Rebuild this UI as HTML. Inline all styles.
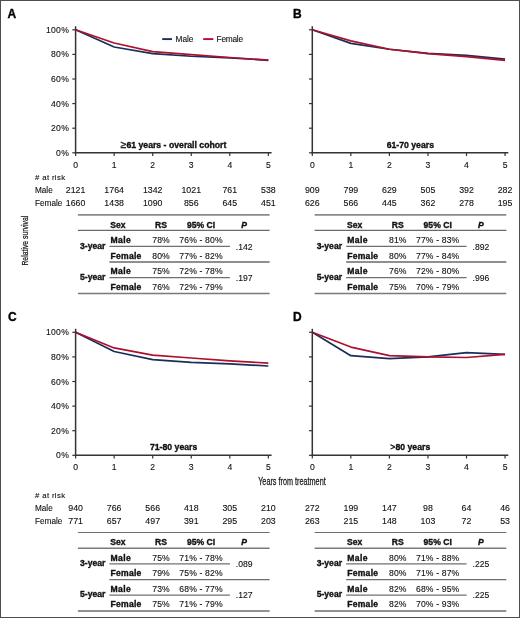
<!DOCTYPE html>
<html><head><meta charset="utf-8"><style>
html,body{margin:0;padding:0;background:#fff;}
body{width:520px;height:618px;overflow:hidden;}
.frame{position:absolute;left:0;top:0;width:520px;height:618px;box-sizing:border-box;border:1px solid #4d4d4d;}
svg{position:absolute;left:0;top:0;font-family:"Liberation Sans", sans-serif;will-change:transform;}
</style></head><body>
<svg width="520" height="618" viewBox="0 0 520 618">
<text x="7.50" y="18.20" font-size="12" text-anchor="start" font-weight="bold" font-style="normal" fill="#000" stroke="#000" stroke-width="0.35" >A</text>
<polyline points="75.60,29.80 114.15,47.02 152.70,53.54 191.25,56.25 229.80,57.84 268.35,60.30" fill="none" stroke="#1b2d5a" stroke-width="1.7" stroke-linejoin="round"/>
<polyline points="75.60,29.80 114.15,42.96 152.70,51.57 191.25,54.65 229.80,57.48 268.35,60.06" fill="none" stroke="#ad112d" stroke-width="1.7" stroke-linejoin="round"/>
<line x1="75.60" y1="26.30" x2="75.60" y2="153.55" stroke="#333" stroke-width="1.5"/>
<line x1="74.85" y1="152.80" x2="271.60" y2="152.80" stroke="#333" stroke-width="1.5"/>
<line x1="72.30" y1="29.80" x2="75.60" y2="29.80" stroke="#333" stroke-width="1.2"/>
<text x="69.10" y="32.80" font-size="8.6" text-anchor="end" font-weight="normal" font-style="normal" fill="#111" stroke="#111" stroke-width="0.12" letter-spacing="0.3">100%</text>
<line x1="72.30" y1="54.40" x2="75.60" y2="54.40" stroke="#333" stroke-width="1.2"/>
<text x="69.10" y="57.40" font-size="8.6" text-anchor="end" font-weight="normal" font-style="normal" fill="#111" stroke="#111" stroke-width="0.12" letter-spacing="0.3">80%</text>
<line x1="72.30" y1="79.00" x2="75.60" y2="79.00" stroke="#333" stroke-width="1.2"/>
<text x="69.10" y="82.00" font-size="8.6" text-anchor="end" font-weight="normal" font-style="normal" fill="#111" stroke="#111" stroke-width="0.12" letter-spacing="0.3">60%</text>
<line x1="72.30" y1="103.60" x2="75.60" y2="103.60" stroke="#333" stroke-width="1.2"/>
<text x="69.10" y="106.60" font-size="8.6" text-anchor="end" font-weight="normal" font-style="normal" fill="#111" stroke="#111" stroke-width="0.12" letter-spacing="0.3">40%</text>
<line x1="72.30" y1="128.20" x2="75.60" y2="128.20" stroke="#333" stroke-width="1.2"/>
<text x="69.10" y="131.20" font-size="8.6" text-anchor="end" font-weight="normal" font-style="normal" fill="#111" stroke="#111" stroke-width="0.12" letter-spacing="0.3">20%</text>
<line x1="72.30" y1="152.80" x2="75.60" y2="152.80" stroke="#333" stroke-width="1.2"/>
<text x="69.10" y="155.80" font-size="8.6" text-anchor="end" font-weight="normal" font-style="normal" fill="#111" stroke="#111" stroke-width="0.12" letter-spacing="0.3">0%</text>
<line x1="75.60" y1="152.80" x2="75.60" y2="156.00" stroke="#333" stroke-width="1.2"/>
<text x="75.60" y="167.70" font-size="8.6" text-anchor="middle" font-weight="normal" font-style="normal" fill="#111" stroke="#111" stroke-width="0.12" >0</text>
<line x1="114.15" y1="152.80" x2="114.15" y2="156.00" stroke="#333" stroke-width="1.2"/>
<text x="114.15" y="167.70" font-size="8.6" text-anchor="middle" font-weight="normal" font-style="normal" fill="#111" stroke="#111" stroke-width="0.12" >1</text>
<line x1="152.70" y1="152.80" x2="152.70" y2="156.00" stroke="#333" stroke-width="1.2"/>
<text x="152.70" y="167.70" font-size="8.6" text-anchor="middle" font-weight="normal" font-style="normal" fill="#111" stroke="#111" stroke-width="0.12" >2</text>
<line x1="191.25" y1="152.80" x2="191.25" y2="156.00" stroke="#333" stroke-width="1.2"/>
<text x="191.25" y="167.70" font-size="8.6" text-anchor="middle" font-weight="normal" font-style="normal" fill="#111" stroke="#111" stroke-width="0.12" >3</text>
<line x1="229.80" y1="152.80" x2="229.80" y2="156.00" stroke="#333" stroke-width="1.2"/>
<text x="229.80" y="167.70" font-size="8.6" text-anchor="middle" font-weight="normal" font-style="normal" fill="#111" stroke="#111" stroke-width="0.12" >4</text>
<line x1="268.35" y1="152.80" x2="268.35" y2="156.00" stroke="#333" stroke-width="1.2"/>
<text x="268.35" y="167.70" font-size="8.6" text-anchor="middle" font-weight="normal" font-style="normal" fill="#111" stroke="#111" stroke-width="0.12" >5</text>
<text x="173.60" y="147.70" font-size="8.7" text-anchor="middle" font-weight="bold" font-style="normal" fill="#111" stroke="#111" stroke-width="0.35" ><tspan font-weight="normal" font-size="10.2">≥</tspan>61 years - overall cohort</text>
<text x="35.00" y="180.10" font-size="7.8" text-anchor="start" font-weight="normal" font-style="normal" fill="#111" stroke="#111" stroke-width="0.12" letter-spacing="0.35"># at risk</text>
<text x="35.00" y="193.30" font-size="8.2" text-anchor="start" font-weight="normal" font-style="normal" fill="#111" stroke="#111" stroke-width="0.12" >Male</text>
<text x="35.00" y="206.30" font-size="8.2" text-anchor="start" font-weight="normal" font-style="normal" fill="#111" stroke="#111" stroke-width="0.12" >Female</text>
<text x="75.60" y="193.30" font-size="8.8" text-anchor="middle" font-weight="normal" font-style="normal" fill="#111" stroke="#111" stroke-width="0.12" >2121</text>
<text x="75.60" y="206.30" font-size="8.8" text-anchor="middle" font-weight="normal" font-style="normal" fill="#111" stroke="#111" stroke-width="0.12" >1660</text>
<text x="114.15" y="193.30" font-size="8.8" text-anchor="middle" font-weight="normal" font-style="normal" fill="#111" stroke="#111" stroke-width="0.12" >1764</text>
<text x="114.15" y="206.30" font-size="8.8" text-anchor="middle" font-weight="normal" font-style="normal" fill="#111" stroke="#111" stroke-width="0.12" >1438</text>
<text x="152.70" y="193.30" font-size="8.8" text-anchor="middle" font-weight="normal" font-style="normal" fill="#111" stroke="#111" stroke-width="0.12" >1342</text>
<text x="152.70" y="206.30" font-size="8.8" text-anchor="middle" font-weight="normal" font-style="normal" fill="#111" stroke="#111" stroke-width="0.12" >1090</text>
<text x="191.25" y="193.30" font-size="8.8" text-anchor="middle" font-weight="normal" font-style="normal" fill="#111" stroke="#111" stroke-width="0.12" >1021</text>
<text x="191.25" y="206.30" font-size="8.8" text-anchor="middle" font-weight="normal" font-style="normal" fill="#111" stroke="#111" stroke-width="0.12" >856</text>
<text x="229.80" y="193.30" font-size="8.8" text-anchor="middle" font-weight="normal" font-style="normal" fill="#111" stroke="#111" stroke-width="0.12" >761</text>
<text x="229.80" y="206.30" font-size="8.8" text-anchor="middle" font-weight="normal" font-style="normal" fill="#111" stroke="#111" stroke-width="0.12" >645</text>
<text x="268.35" y="193.30" font-size="8.8" text-anchor="middle" font-weight="normal" font-style="normal" fill="#111" stroke="#111" stroke-width="0.12" >538</text>
<text x="268.35" y="206.30" font-size="8.8" text-anchor="middle" font-weight="normal" font-style="normal" fill="#111" stroke="#111" stroke-width="0.12" >451</text>
<line x1="77.90" y1="214.90" x2="269.60" y2="214.90" stroke="#8a8a8a" stroke-width="1.7"/>
<line x1="77.90" y1="230.30" x2="269.60" y2="230.30" stroke="#6a6a6a" stroke-width="1.3"/>
<line x1="109.40" y1="262.00" x2="269.60" y2="262.00" stroke="#8f8f8f" stroke-width="1.9"/>
<line x1="77.90" y1="293.50" x2="269.60" y2="293.50" stroke="#7a7a7a" stroke-width="1.6"/>
<line x1="109.40" y1="246.40" x2="229.90" y2="246.40" stroke="#707070" stroke-width="1.1"/>
<line x1="109.40" y1="277.60" x2="229.90" y2="277.60" stroke="#707070" stroke-width="1.1"/>
<text x="110.30" y="227.80" font-size="8.6" text-anchor="start" font-weight="bold" font-style="normal" fill="#111" stroke="#111" stroke-width="0.35" >Sex</text>
<text x="161.10" y="227.80" font-size="8.6" text-anchor="middle" font-weight="bold" font-style="normal" fill="#111" stroke="#111" stroke-width="0.35" >RS</text>
<text x="201.00" y="227.80" font-size="8.6" text-anchor="middle" font-weight="bold" font-style="normal" fill="#111" stroke="#111" stroke-width="0.35" >95% CI</text>
<text x="244.20" y="227.80" font-size="8.6" text-anchor="middle" font-weight="bold" font-style="italic" fill="#111" stroke="#111" stroke-width="0.35" >P</text>
<text x="80.00" y="248.80" font-size="8.6" text-anchor="start" font-weight="bold" font-style="normal" fill="#111" stroke="#111" stroke-width="0.35" >3-year</text>
<text x="110.50" y="243.00" font-size="8.6" text-anchor="start" font-weight="bold" font-style="normal" fill="#111" stroke="#111" stroke-width="0.35" letter-spacing="0.4">Male</text>
<text x="110.50" y="258.50" font-size="8.6" text-anchor="start" font-weight="bold" font-style="normal" fill="#111" stroke="#111" stroke-width="0.35" letter-spacing="0.25">Female</text>
<text x="161.10" y="243.00" font-size="8.6" text-anchor="middle" font-weight="normal" font-style="normal" fill="#111" stroke="#111" stroke-width="0.12" letter-spacing="0.15">78%</text>
<text x="201.00" y="243.00" font-size="8.6" text-anchor="middle" font-weight="normal" font-style="normal" fill="#111" stroke="#111" stroke-width="0.12" letter-spacing="0.15">76% - 80%</text>
<text x="161.10" y="258.50" font-size="8.6" text-anchor="middle" font-weight="normal" font-style="normal" fill="#111" stroke="#111" stroke-width="0.12" letter-spacing="0.15">80%</text>
<text x="201.00" y="258.50" font-size="8.6" text-anchor="middle" font-weight="normal" font-style="normal" fill="#111" stroke="#111" stroke-width="0.12" letter-spacing="0.15">77% - 82%</text>
<text x="235.80" y="249.70" font-size="8.6" text-anchor="start" font-weight="normal" font-style="normal" fill="#111" stroke="#111" stroke-width="0.12" >.142</text>
<text x="80.00" y="279.90" font-size="8.6" text-anchor="start" font-weight="bold" font-style="normal" fill="#111" stroke="#111" stroke-width="0.35" >5-year</text>
<text x="110.50" y="274.10" font-size="8.6" text-anchor="start" font-weight="bold" font-style="normal" fill="#111" stroke="#111" stroke-width="0.35" letter-spacing="0.4">Male</text>
<text x="110.50" y="289.60" font-size="8.6" text-anchor="start" font-weight="bold" font-style="normal" fill="#111" stroke="#111" stroke-width="0.35" letter-spacing="0.25">Female</text>
<text x="161.10" y="274.10" font-size="8.6" text-anchor="middle" font-weight="normal" font-style="normal" fill="#111" stroke="#111" stroke-width="0.12" letter-spacing="0.15">75%</text>
<text x="201.00" y="274.10" font-size="8.6" text-anchor="middle" font-weight="normal" font-style="normal" fill="#111" stroke="#111" stroke-width="0.12" letter-spacing="0.15">72% - 78%</text>
<text x="161.10" y="289.60" font-size="8.6" text-anchor="middle" font-weight="normal" font-style="normal" fill="#111" stroke="#111" stroke-width="0.12" letter-spacing="0.15">76%</text>
<text x="201.00" y="289.60" font-size="8.6" text-anchor="middle" font-weight="normal" font-style="normal" fill="#111" stroke="#111" stroke-width="0.12" letter-spacing="0.15">72% - 79%</text>
<text x="235.80" y="280.80" font-size="8.6" text-anchor="start" font-weight="normal" font-style="normal" fill="#111" stroke="#111" stroke-width="0.12" >.197</text>
<text x="293.00" y="18.20" font-size="12" text-anchor="start" font-weight="bold" font-style="normal" fill="#000" stroke="#000" stroke-width="0.35" >B</text>
<polyline points="312.30,29.80 350.85,43.33 389.40,49.23 427.95,53.42 466.50,55.38 505.05,59.07" fill="none" stroke="#1b2d5a" stroke-width="1.7" stroke-linejoin="round"/>
<polyline points="312.30,29.80 350.85,40.87 389.40,49.23 427.95,53.66 466.50,56.61 505.05,60.30" fill="none" stroke="#ad112d" stroke-width="1.7" stroke-linejoin="round"/>
<line x1="312.30" y1="26.30" x2="312.30" y2="153.55" stroke="#333" stroke-width="1.5"/>
<line x1="311.55" y1="152.80" x2="508.30" y2="152.80" stroke="#333" stroke-width="1.5"/>
<line x1="309.00" y1="29.80" x2="312.30" y2="29.80" stroke="#333" stroke-width="1.2"/>
<line x1="309.00" y1="54.40" x2="312.30" y2="54.40" stroke="#333" stroke-width="1.2"/>
<line x1="309.00" y1="79.00" x2="312.30" y2="79.00" stroke="#333" stroke-width="1.2"/>
<line x1="309.00" y1="103.60" x2="312.30" y2="103.60" stroke="#333" stroke-width="1.2"/>
<line x1="309.00" y1="128.20" x2="312.30" y2="128.20" stroke="#333" stroke-width="1.2"/>
<line x1="309.00" y1="152.80" x2="312.30" y2="152.80" stroke="#333" stroke-width="1.2"/>
<line x1="312.30" y1="152.80" x2="312.30" y2="156.00" stroke="#333" stroke-width="1.2"/>
<text x="312.30" y="167.70" font-size="8.6" text-anchor="middle" font-weight="normal" font-style="normal" fill="#111" stroke="#111" stroke-width="0.12" >0</text>
<line x1="350.85" y1="152.80" x2="350.85" y2="156.00" stroke="#333" stroke-width="1.2"/>
<text x="350.85" y="167.70" font-size="8.6" text-anchor="middle" font-weight="normal" font-style="normal" fill="#111" stroke="#111" stroke-width="0.12" >1</text>
<line x1="389.40" y1="152.80" x2="389.40" y2="156.00" stroke="#333" stroke-width="1.2"/>
<text x="389.40" y="167.70" font-size="8.6" text-anchor="middle" font-weight="normal" font-style="normal" fill="#111" stroke="#111" stroke-width="0.12" >2</text>
<line x1="427.95" y1="152.80" x2="427.95" y2="156.00" stroke="#333" stroke-width="1.2"/>
<text x="427.95" y="167.70" font-size="8.6" text-anchor="middle" font-weight="normal" font-style="normal" fill="#111" stroke="#111" stroke-width="0.12" >3</text>
<line x1="466.50" y1="152.80" x2="466.50" y2="156.00" stroke="#333" stroke-width="1.2"/>
<text x="466.50" y="167.70" font-size="8.6" text-anchor="middle" font-weight="normal" font-style="normal" fill="#111" stroke="#111" stroke-width="0.12" >4</text>
<line x1="505.05" y1="152.80" x2="505.05" y2="156.00" stroke="#333" stroke-width="1.2"/>
<text x="505.05" y="167.70" font-size="8.6" text-anchor="middle" font-weight="normal" font-style="normal" fill="#111" stroke="#111" stroke-width="0.12" >5</text>
<text x="410.30" y="147.70" font-size="8.7" text-anchor="middle" font-weight="bold" font-style="normal" fill="#111" stroke="#111" stroke-width="0.35" >61-70 years</text>
<text x="312.30" y="193.30" font-size="8.8" text-anchor="middle" font-weight="normal" font-style="normal" fill="#111" stroke="#111" stroke-width="0.12" >909</text>
<text x="312.30" y="206.30" font-size="8.8" text-anchor="middle" font-weight="normal" font-style="normal" fill="#111" stroke="#111" stroke-width="0.12" >626</text>
<text x="350.85" y="193.30" font-size="8.8" text-anchor="middle" font-weight="normal" font-style="normal" fill="#111" stroke="#111" stroke-width="0.12" >799</text>
<text x="350.85" y="206.30" font-size="8.8" text-anchor="middle" font-weight="normal" font-style="normal" fill="#111" stroke="#111" stroke-width="0.12" >566</text>
<text x="389.40" y="193.30" font-size="8.8" text-anchor="middle" font-weight="normal" font-style="normal" fill="#111" stroke="#111" stroke-width="0.12" >629</text>
<text x="389.40" y="206.30" font-size="8.8" text-anchor="middle" font-weight="normal" font-style="normal" fill="#111" stroke="#111" stroke-width="0.12" >445</text>
<text x="427.95" y="193.30" font-size="8.8" text-anchor="middle" font-weight="normal" font-style="normal" fill="#111" stroke="#111" stroke-width="0.12" >505</text>
<text x="427.95" y="206.30" font-size="8.8" text-anchor="middle" font-weight="normal" font-style="normal" fill="#111" stroke="#111" stroke-width="0.12" >362</text>
<text x="466.50" y="193.30" font-size="8.8" text-anchor="middle" font-weight="normal" font-style="normal" fill="#111" stroke="#111" stroke-width="0.12" >392</text>
<text x="466.50" y="206.30" font-size="8.8" text-anchor="middle" font-weight="normal" font-style="normal" fill="#111" stroke="#111" stroke-width="0.12" >278</text>
<text x="505.05" y="193.30" font-size="8.8" text-anchor="middle" font-weight="normal" font-style="normal" fill="#111" stroke="#111" stroke-width="0.12" >282</text>
<text x="505.05" y="206.30" font-size="8.8" text-anchor="middle" font-weight="normal" font-style="normal" fill="#111" stroke="#111" stroke-width="0.12" >195</text>
<line x1="314.60" y1="214.90" x2="506.30" y2="214.90" stroke="#8a8a8a" stroke-width="1.7"/>
<line x1="314.60" y1="230.30" x2="506.30" y2="230.30" stroke="#6a6a6a" stroke-width="1.3"/>
<line x1="346.10" y1="262.00" x2="506.30" y2="262.00" stroke="#8f8f8f" stroke-width="1.9"/>
<line x1="314.60" y1="293.50" x2="506.30" y2="293.50" stroke="#7a7a7a" stroke-width="1.6"/>
<line x1="346.10" y1="246.40" x2="466.60" y2="246.40" stroke="#707070" stroke-width="1.1"/>
<line x1="346.10" y1="277.60" x2="466.60" y2="277.60" stroke="#707070" stroke-width="1.1"/>
<text x="347.00" y="227.80" font-size="8.6" text-anchor="start" font-weight="bold" font-style="normal" fill="#111" stroke="#111" stroke-width="0.35" >Sex</text>
<text x="397.80" y="227.80" font-size="8.6" text-anchor="middle" font-weight="bold" font-style="normal" fill="#111" stroke="#111" stroke-width="0.35" >RS</text>
<text x="437.70" y="227.80" font-size="8.6" text-anchor="middle" font-weight="bold" font-style="normal" fill="#111" stroke="#111" stroke-width="0.35" >95% CI</text>
<text x="480.90" y="227.80" font-size="8.6" text-anchor="middle" font-weight="bold" font-style="italic" fill="#111" stroke="#111" stroke-width="0.35" >P</text>
<text x="316.70" y="248.80" font-size="8.6" text-anchor="start" font-weight="bold" font-style="normal" fill="#111" stroke="#111" stroke-width="0.35" >3-year</text>
<text x="347.20" y="243.00" font-size="8.6" text-anchor="start" font-weight="bold" font-style="normal" fill="#111" stroke="#111" stroke-width="0.35" letter-spacing="0.4">Male</text>
<text x="347.20" y="258.50" font-size="8.6" text-anchor="start" font-weight="bold" font-style="normal" fill="#111" stroke="#111" stroke-width="0.35" letter-spacing="0.25">Female</text>
<text x="397.80" y="243.00" font-size="8.6" text-anchor="middle" font-weight="normal" font-style="normal" fill="#111" stroke="#111" stroke-width="0.12" letter-spacing="0.15">81%</text>
<text x="437.70" y="243.00" font-size="8.6" text-anchor="middle" font-weight="normal" font-style="normal" fill="#111" stroke="#111" stroke-width="0.12" letter-spacing="0.15">77% - 83%</text>
<text x="397.80" y="258.50" font-size="8.6" text-anchor="middle" font-weight="normal" font-style="normal" fill="#111" stroke="#111" stroke-width="0.12" letter-spacing="0.15">80%</text>
<text x="437.70" y="258.50" font-size="8.6" text-anchor="middle" font-weight="normal" font-style="normal" fill="#111" stroke="#111" stroke-width="0.12" letter-spacing="0.15">77% - 84%</text>
<text x="472.50" y="249.70" font-size="8.6" text-anchor="start" font-weight="normal" font-style="normal" fill="#111" stroke="#111" stroke-width="0.12" >.892</text>
<text x="316.70" y="279.90" font-size="8.6" text-anchor="start" font-weight="bold" font-style="normal" fill="#111" stroke="#111" stroke-width="0.35" >5-year</text>
<text x="347.20" y="274.10" font-size="8.6" text-anchor="start" font-weight="bold" font-style="normal" fill="#111" stroke="#111" stroke-width="0.35" letter-spacing="0.4">Male</text>
<text x="347.20" y="289.60" font-size="8.6" text-anchor="start" font-weight="bold" font-style="normal" fill="#111" stroke="#111" stroke-width="0.35" letter-spacing="0.25">Female</text>
<text x="397.80" y="274.10" font-size="8.6" text-anchor="middle" font-weight="normal" font-style="normal" fill="#111" stroke="#111" stroke-width="0.12" letter-spacing="0.15">76%</text>
<text x="437.70" y="274.10" font-size="8.6" text-anchor="middle" font-weight="normal" font-style="normal" fill="#111" stroke="#111" stroke-width="0.12" letter-spacing="0.15">72% - 80%</text>
<text x="397.80" y="289.60" font-size="8.6" text-anchor="middle" font-weight="normal" font-style="normal" fill="#111" stroke="#111" stroke-width="0.12" letter-spacing="0.15">75%</text>
<text x="437.70" y="289.60" font-size="8.6" text-anchor="middle" font-weight="normal" font-style="normal" fill="#111" stroke="#111" stroke-width="0.12" letter-spacing="0.15">70% - 79%</text>
<text x="472.50" y="280.80" font-size="8.6" text-anchor="start" font-weight="normal" font-style="normal" fill="#111" stroke="#111" stroke-width="0.12" >.996</text>
<text x="8.00" y="320.60" font-size="12" text-anchor="start" font-weight="bold" font-style="normal" fill="#000" stroke="#000" stroke-width="0.35" >C</text>
<polyline points="75.60,332.30 114.15,351.49 152.70,359.61 191.25,362.44 229.80,363.91 268.35,366.00" fill="none" stroke="#1b2d5a" stroke-width="1.7" stroke-linejoin="round"/>
<polyline points="75.60,332.30 114.15,347.92 152.70,355.18 191.25,358.01 229.80,360.84 268.35,363.05" fill="none" stroke="#ad112d" stroke-width="1.7" stroke-linejoin="round"/>
<line x1="75.60" y1="328.80" x2="75.60" y2="456.05" stroke="#333" stroke-width="1.5"/>
<line x1="74.85" y1="455.30" x2="271.60" y2="455.30" stroke="#333" stroke-width="1.5"/>
<line x1="72.30" y1="332.30" x2="75.60" y2="332.30" stroke="#333" stroke-width="1.2"/>
<text x="69.10" y="335.30" font-size="8.6" text-anchor="end" font-weight="normal" font-style="normal" fill="#111" stroke="#111" stroke-width="0.12" letter-spacing="0.3">100%</text>
<line x1="72.30" y1="356.90" x2="75.60" y2="356.90" stroke="#333" stroke-width="1.2"/>
<text x="69.10" y="359.90" font-size="8.6" text-anchor="end" font-weight="normal" font-style="normal" fill="#111" stroke="#111" stroke-width="0.12" letter-spacing="0.3">80%</text>
<line x1="72.30" y1="381.50" x2="75.60" y2="381.50" stroke="#333" stroke-width="1.2"/>
<text x="69.10" y="384.50" font-size="8.6" text-anchor="end" font-weight="normal" font-style="normal" fill="#111" stroke="#111" stroke-width="0.12" letter-spacing="0.3">60%</text>
<line x1="72.30" y1="406.10" x2="75.60" y2="406.10" stroke="#333" stroke-width="1.2"/>
<text x="69.10" y="409.10" font-size="8.6" text-anchor="end" font-weight="normal" font-style="normal" fill="#111" stroke="#111" stroke-width="0.12" letter-spacing="0.3">40%</text>
<line x1="72.30" y1="430.70" x2="75.60" y2="430.70" stroke="#333" stroke-width="1.2"/>
<text x="69.10" y="433.70" font-size="8.6" text-anchor="end" font-weight="normal" font-style="normal" fill="#111" stroke="#111" stroke-width="0.12" letter-spacing="0.3">20%</text>
<line x1="72.30" y1="455.30" x2="75.60" y2="455.30" stroke="#333" stroke-width="1.2"/>
<text x="69.10" y="458.30" font-size="8.6" text-anchor="end" font-weight="normal" font-style="normal" fill="#111" stroke="#111" stroke-width="0.12" letter-spacing="0.3">0%</text>
<line x1="75.60" y1="455.30" x2="75.60" y2="458.50" stroke="#333" stroke-width="1.2"/>
<text x="75.60" y="470.20" font-size="8.6" text-anchor="middle" font-weight="normal" font-style="normal" fill="#111" stroke="#111" stroke-width="0.12" >0</text>
<line x1="114.15" y1="455.30" x2="114.15" y2="458.50" stroke="#333" stroke-width="1.2"/>
<text x="114.15" y="470.20" font-size="8.6" text-anchor="middle" font-weight="normal" font-style="normal" fill="#111" stroke="#111" stroke-width="0.12" >1</text>
<line x1="152.70" y1="455.30" x2="152.70" y2="458.50" stroke="#333" stroke-width="1.2"/>
<text x="152.70" y="470.20" font-size="8.6" text-anchor="middle" font-weight="normal" font-style="normal" fill="#111" stroke="#111" stroke-width="0.12" >2</text>
<line x1="191.25" y1="455.30" x2="191.25" y2="458.50" stroke="#333" stroke-width="1.2"/>
<text x="191.25" y="470.20" font-size="8.6" text-anchor="middle" font-weight="normal" font-style="normal" fill="#111" stroke="#111" stroke-width="0.12" >3</text>
<line x1="229.80" y1="455.30" x2="229.80" y2="458.50" stroke="#333" stroke-width="1.2"/>
<text x="229.80" y="470.20" font-size="8.6" text-anchor="middle" font-weight="normal" font-style="normal" fill="#111" stroke="#111" stroke-width="0.12" >4</text>
<line x1="268.35" y1="455.30" x2="268.35" y2="458.50" stroke="#333" stroke-width="1.2"/>
<text x="268.35" y="470.20" font-size="8.6" text-anchor="middle" font-weight="normal" font-style="normal" fill="#111" stroke="#111" stroke-width="0.12" >5</text>
<text x="173.60" y="450.20" font-size="8.7" text-anchor="middle" font-weight="bold" font-style="normal" fill="#111" stroke="#111" stroke-width="0.35" >71-80 years</text>
<text x="35.00" y="497.90" font-size="7.8" text-anchor="start" font-weight="normal" font-style="normal" fill="#111" stroke="#111" stroke-width="0.12" letter-spacing="0.35"># at risk</text>
<text x="35.00" y="511.10" font-size="8.2" text-anchor="start" font-weight="normal" font-style="normal" fill="#111" stroke="#111" stroke-width="0.12" >Male</text>
<text x="35.00" y="524.10" font-size="8.2" text-anchor="start" font-weight="normal" font-style="normal" fill="#111" stroke="#111" stroke-width="0.12" >Female</text>
<text x="75.60" y="511.10" font-size="8.8" text-anchor="middle" font-weight="normal" font-style="normal" fill="#111" stroke="#111" stroke-width="0.12" >940</text>
<text x="75.60" y="524.10" font-size="8.8" text-anchor="middle" font-weight="normal" font-style="normal" fill="#111" stroke="#111" stroke-width="0.12" >771</text>
<text x="114.15" y="511.10" font-size="8.8" text-anchor="middle" font-weight="normal" font-style="normal" fill="#111" stroke="#111" stroke-width="0.12" >766</text>
<text x="114.15" y="524.10" font-size="8.8" text-anchor="middle" font-weight="normal" font-style="normal" fill="#111" stroke="#111" stroke-width="0.12" >657</text>
<text x="152.70" y="511.10" font-size="8.8" text-anchor="middle" font-weight="normal" font-style="normal" fill="#111" stroke="#111" stroke-width="0.12" >566</text>
<text x="152.70" y="524.10" font-size="8.8" text-anchor="middle" font-weight="normal" font-style="normal" fill="#111" stroke="#111" stroke-width="0.12" >497</text>
<text x="191.25" y="511.10" font-size="8.8" text-anchor="middle" font-weight="normal" font-style="normal" fill="#111" stroke="#111" stroke-width="0.12" >418</text>
<text x="191.25" y="524.10" font-size="8.8" text-anchor="middle" font-weight="normal" font-style="normal" fill="#111" stroke="#111" stroke-width="0.12" >391</text>
<text x="229.80" y="511.10" font-size="8.8" text-anchor="middle" font-weight="normal" font-style="normal" fill="#111" stroke="#111" stroke-width="0.12" >305</text>
<text x="229.80" y="524.10" font-size="8.8" text-anchor="middle" font-weight="normal" font-style="normal" fill="#111" stroke="#111" stroke-width="0.12" >295</text>
<text x="268.35" y="511.10" font-size="8.8" text-anchor="middle" font-weight="normal" font-style="normal" fill="#111" stroke="#111" stroke-width="0.12" >210</text>
<text x="268.35" y="524.10" font-size="8.8" text-anchor="middle" font-weight="normal" font-style="normal" fill="#111" stroke="#111" stroke-width="0.12" >203</text>
<line x1="77.90" y1="532.50" x2="269.60" y2="532.50" stroke="#6e6e6e" stroke-width="1.1"/>
<line x1="77.90" y1="548.20" x2="269.60" y2="548.20" stroke="#7a7a7a" stroke-width="1.4"/>
<line x1="109.40" y1="579.60" x2="269.60" y2="579.60" stroke="#6e6e6e" stroke-width="1.3"/>
<line x1="77.90" y1="611.00" x2="269.60" y2="611.00" stroke="#6e6e6e" stroke-width="1.3"/>
<line x1="109.40" y1="563.90" x2="229.90" y2="563.90" stroke="#707070" stroke-width="1.1"/>
<line x1="109.40" y1="595.10" x2="229.90" y2="595.10" stroke="#707070" stroke-width="1.1"/>
<text x="110.30" y="545.30" font-size="8.6" text-anchor="start" font-weight="bold" font-style="normal" fill="#111" stroke="#111" stroke-width="0.35" >Sex</text>
<text x="161.10" y="545.30" font-size="8.6" text-anchor="middle" font-weight="bold" font-style="normal" fill="#111" stroke="#111" stroke-width="0.35" >RS</text>
<text x="201.00" y="545.30" font-size="8.6" text-anchor="middle" font-weight="bold" font-style="normal" fill="#111" stroke="#111" stroke-width="0.35" >95% CI</text>
<text x="244.20" y="545.30" font-size="8.6" text-anchor="middle" font-weight="bold" font-style="italic" fill="#111" stroke="#111" stroke-width="0.35" >P</text>
<text x="80.00" y="566.30" font-size="8.6" text-anchor="start" font-weight="bold" font-style="normal" fill="#111" stroke="#111" stroke-width="0.35" >3-year</text>
<text x="110.50" y="560.50" font-size="8.6" text-anchor="start" font-weight="bold" font-style="normal" fill="#111" stroke="#111" stroke-width="0.35" letter-spacing="0.4">Male</text>
<text x="110.50" y="576.00" font-size="8.6" text-anchor="start" font-weight="bold" font-style="normal" fill="#111" stroke="#111" stroke-width="0.35" letter-spacing="0.25">Female</text>
<text x="161.10" y="560.50" font-size="8.6" text-anchor="middle" font-weight="normal" font-style="normal" fill="#111" stroke="#111" stroke-width="0.12" letter-spacing="0.15">75%</text>
<text x="201.00" y="560.50" font-size="8.6" text-anchor="middle" font-weight="normal" font-style="normal" fill="#111" stroke="#111" stroke-width="0.12" letter-spacing="0.15">71% - 78%</text>
<text x="161.10" y="576.00" font-size="8.6" text-anchor="middle" font-weight="normal" font-style="normal" fill="#111" stroke="#111" stroke-width="0.12" letter-spacing="0.15">79%</text>
<text x="201.00" y="576.00" font-size="8.6" text-anchor="middle" font-weight="normal" font-style="normal" fill="#111" stroke="#111" stroke-width="0.12" letter-spacing="0.15">75% - 82%</text>
<text x="235.80" y="567.20" font-size="8.6" text-anchor="start" font-weight="normal" font-style="normal" fill="#111" stroke="#111" stroke-width="0.12" >.089</text>
<text x="80.00" y="597.40" font-size="8.6" text-anchor="start" font-weight="bold" font-style="normal" fill="#111" stroke="#111" stroke-width="0.35" >5-year</text>
<text x="110.50" y="591.60" font-size="8.6" text-anchor="start" font-weight="bold" font-style="normal" fill="#111" stroke="#111" stroke-width="0.35" letter-spacing="0.4">Male</text>
<text x="110.50" y="607.10" font-size="8.6" text-anchor="start" font-weight="bold" font-style="normal" fill="#111" stroke="#111" stroke-width="0.35" letter-spacing="0.25">Female</text>
<text x="161.10" y="591.60" font-size="8.6" text-anchor="middle" font-weight="normal" font-style="normal" fill="#111" stroke="#111" stroke-width="0.12" letter-spacing="0.15">73%</text>
<text x="201.00" y="591.60" font-size="8.6" text-anchor="middle" font-weight="normal" font-style="normal" fill="#111" stroke="#111" stroke-width="0.12" letter-spacing="0.15">68% - 77%</text>
<text x="161.10" y="607.10" font-size="8.6" text-anchor="middle" font-weight="normal" font-style="normal" fill="#111" stroke="#111" stroke-width="0.12" letter-spacing="0.15">75%</text>
<text x="201.00" y="607.10" font-size="8.6" text-anchor="middle" font-weight="normal" font-style="normal" fill="#111" stroke="#111" stroke-width="0.12" letter-spacing="0.15">71% - 79%</text>
<text x="235.80" y="598.30" font-size="8.6" text-anchor="start" font-weight="normal" font-style="normal" fill="#111" stroke="#111" stroke-width="0.12" >.127</text>
<text x="293.00" y="320.60" font-size="12" text-anchor="start" font-weight="bold" font-style="normal" fill="#000" stroke="#000" stroke-width="0.35" >D</text>
<polyline points="312.30,332.30 350.85,355.67 389.40,358.62 427.95,356.90 466.50,352.60 505.05,354.44" fill="none" stroke="#1b2d5a" stroke-width="1.7" stroke-linejoin="round"/>
<polyline points="312.30,332.30 350.85,347.06 389.40,355.67 427.95,356.90 466.50,357.51 505.05,354.44" fill="none" stroke="#ad112d" stroke-width="1.7" stroke-linejoin="round"/>
<line x1="312.30" y1="328.80" x2="312.30" y2="456.05" stroke="#333" stroke-width="1.5"/>
<line x1="311.55" y1="455.30" x2="508.30" y2="455.30" stroke="#333" stroke-width="1.5"/>
<line x1="309.00" y1="332.30" x2="312.30" y2="332.30" stroke="#333" stroke-width="1.2"/>
<line x1="309.00" y1="356.90" x2="312.30" y2="356.90" stroke="#333" stroke-width="1.2"/>
<line x1="309.00" y1="381.50" x2="312.30" y2="381.50" stroke="#333" stroke-width="1.2"/>
<line x1="309.00" y1="406.10" x2="312.30" y2="406.10" stroke="#333" stroke-width="1.2"/>
<line x1="309.00" y1="430.70" x2="312.30" y2="430.70" stroke="#333" stroke-width="1.2"/>
<line x1="309.00" y1="455.30" x2="312.30" y2="455.30" stroke="#333" stroke-width="1.2"/>
<line x1="312.30" y1="455.30" x2="312.30" y2="458.50" stroke="#333" stroke-width="1.2"/>
<text x="312.30" y="470.20" font-size="8.6" text-anchor="middle" font-weight="normal" font-style="normal" fill="#111" stroke="#111" stroke-width="0.12" >0</text>
<line x1="350.85" y1="455.30" x2="350.85" y2="458.50" stroke="#333" stroke-width="1.2"/>
<text x="350.85" y="470.20" font-size="8.6" text-anchor="middle" font-weight="normal" font-style="normal" fill="#111" stroke="#111" stroke-width="0.12" >1</text>
<line x1="389.40" y1="455.30" x2="389.40" y2="458.50" stroke="#333" stroke-width="1.2"/>
<text x="389.40" y="470.20" font-size="8.6" text-anchor="middle" font-weight="normal" font-style="normal" fill="#111" stroke="#111" stroke-width="0.12" >2</text>
<line x1="427.95" y1="455.30" x2="427.95" y2="458.50" stroke="#333" stroke-width="1.2"/>
<text x="427.95" y="470.20" font-size="8.6" text-anchor="middle" font-weight="normal" font-style="normal" fill="#111" stroke="#111" stroke-width="0.12" >3</text>
<line x1="466.50" y1="455.30" x2="466.50" y2="458.50" stroke="#333" stroke-width="1.2"/>
<text x="466.50" y="470.20" font-size="8.6" text-anchor="middle" font-weight="normal" font-style="normal" fill="#111" stroke="#111" stroke-width="0.12" >4</text>
<line x1="505.05" y1="455.30" x2="505.05" y2="458.50" stroke="#333" stroke-width="1.2"/>
<text x="505.05" y="470.20" font-size="8.6" text-anchor="middle" font-weight="normal" font-style="normal" fill="#111" stroke="#111" stroke-width="0.12" >5</text>
<text x="410.30" y="450.20" font-size="8.7" text-anchor="middle" font-weight="bold" font-style="normal" fill="#111" stroke="#111" stroke-width="0.35" ><tspan font-weight="normal">&gt;</tspan>80 years</text>
<text x="312.30" y="511.10" font-size="8.8" text-anchor="middle" font-weight="normal" font-style="normal" fill="#111" stroke="#111" stroke-width="0.12" >272</text>
<text x="312.30" y="524.10" font-size="8.8" text-anchor="middle" font-weight="normal" font-style="normal" fill="#111" stroke="#111" stroke-width="0.12" >263</text>
<text x="350.85" y="511.10" font-size="8.8" text-anchor="middle" font-weight="normal" font-style="normal" fill="#111" stroke="#111" stroke-width="0.12" >199</text>
<text x="350.85" y="524.10" font-size="8.8" text-anchor="middle" font-weight="normal" font-style="normal" fill="#111" stroke="#111" stroke-width="0.12" >215</text>
<text x="389.40" y="511.10" font-size="8.8" text-anchor="middle" font-weight="normal" font-style="normal" fill="#111" stroke="#111" stroke-width="0.12" >147</text>
<text x="389.40" y="524.10" font-size="8.8" text-anchor="middle" font-weight="normal" font-style="normal" fill="#111" stroke="#111" stroke-width="0.12" >148</text>
<text x="427.95" y="511.10" font-size="8.8" text-anchor="middle" font-weight="normal" font-style="normal" fill="#111" stroke="#111" stroke-width="0.12" >98</text>
<text x="427.95" y="524.10" font-size="8.8" text-anchor="middle" font-weight="normal" font-style="normal" fill="#111" stroke="#111" stroke-width="0.12" >103</text>
<text x="466.50" y="511.10" font-size="8.8" text-anchor="middle" font-weight="normal" font-style="normal" fill="#111" stroke="#111" stroke-width="0.12" >64</text>
<text x="466.50" y="524.10" font-size="8.8" text-anchor="middle" font-weight="normal" font-style="normal" fill="#111" stroke="#111" stroke-width="0.12" >72</text>
<text x="505.05" y="511.10" font-size="8.8" text-anchor="middle" font-weight="normal" font-style="normal" fill="#111" stroke="#111" stroke-width="0.12" >46</text>
<text x="505.05" y="524.10" font-size="8.8" text-anchor="middle" font-weight="normal" font-style="normal" fill="#111" stroke="#111" stroke-width="0.12" >53</text>
<line x1="314.60" y1="532.50" x2="506.30" y2="532.50" stroke="#6e6e6e" stroke-width="1.1"/>
<line x1="314.60" y1="548.20" x2="506.30" y2="548.20" stroke="#7a7a7a" stroke-width="1.4"/>
<line x1="346.10" y1="579.60" x2="506.30" y2="579.60" stroke="#6e6e6e" stroke-width="1.3"/>
<line x1="314.60" y1="611.00" x2="506.30" y2="611.00" stroke="#6e6e6e" stroke-width="1.3"/>
<line x1="346.10" y1="563.90" x2="466.60" y2="563.90" stroke="#707070" stroke-width="1.1"/>
<line x1="346.10" y1="595.10" x2="466.60" y2="595.10" stroke="#707070" stroke-width="1.1"/>
<text x="347.00" y="545.30" font-size="8.6" text-anchor="start" font-weight="bold" font-style="normal" fill="#111" stroke="#111" stroke-width="0.35" >Sex</text>
<text x="397.80" y="545.30" font-size="8.6" text-anchor="middle" font-weight="bold" font-style="normal" fill="#111" stroke="#111" stroke-width="0.35" >RS</text>
<text x="437.70" y="545.30" font-size="8.6" text-anchor="middle" font-weight="bold" font-style="normal" fill="#111" stroke="#111" stroke-width="0.35" >95% CI</text>
<text x="480.90" y="545.30" font-size="8.6" text-anchor="middle" font-weight="bold" font-style="italic" fill="#111" stroke="#111" stroke-width="0.35" >P</text>
<text x="316.70" y="566.30" font-size="8.6" text-anchor="start" font-weight="bold" font-style="normal" fill="#111" stroke="#111" stroke-width="0.35" >3-year</text>
<text x="347.20" y="560.50" font-size="8.6" text-anchor="start" font-weight="bold" font-style="normal" fill="#111" stroke="#111" stroke-width="0.35" letter-spacing="0.4">Male</text>
<text x="347.20" y="576.00" font-size="8.6" text-anchor="start" font-weight="bold" font-style="normal" fill="#111" stroke="#111" stroke-width="0.35" letter-spacing="0.25">Female</text>
<text x="397.80" y="560.50" font-size="8.6" text-anchor="middle" font-weight="normal" font-style="normal" fill="#111" stroke="#111" stroke-width="0.12" letter-spacing="0.15">80%</text>
<text x="437.70" y="560.50" font-size="8.6" text-anchor="middle" font-weight="normal" font-style="normal" fill="#111" stroke="#111" stroke-width="0.12" letter-spacing="0.15">71% - 88%</text>
<text x="397.80" y="576.00" font-size="8.6" text-anchor="middle" font-weight="normal" font-style="normal" fill="#111" stroke="#111" stroke-width="0.12" letter-spacing="0.15">80%</text>
<text x="437.70" y="576.00" font-size="8.6" text-anchor="middle" font-weight="normal" font-style="normal" fill="#111" stroke="#111" stroke-width="0.12" letter-spacing="0.15">71% - 87%</text>
<text x="472.50" y="567.20" font-size="8.6" text-anchor="start" font-weight="normal" font-style="normal" fill="#111" stroke="#111" stroke-width="0.12" >.225</text>
<text x="316.70" y="597.40" font-size="8.6" text-anchor="start" font-weight="bold" font-style="normal" fill="#111" stroke="#111" stroke-width="0.35" >5-year</text>
<text x="347.20" y="591.60" font-size="8.6" text-anchor="start" font-weight="bold" font-style="normal" fill="#111" stroke="#111" stroke-width="0.35" letter-spacing="0.4">Male</text>
<text x="347.20" y="607.10" font-size="8.6" text-anchor="start" font-weight="bold" font-style="normal" fill="#111" stroke="#111" stroke-width="0.35" letter-spacing="0.25">Female</text>
<text x="397.80" y="591.60" font-size="8.6" text-anchor="middle" font-weight="normal" font-style="normal" fill="#111" stroke="#111" stroke-width="0.12" letter-spacing="0.15">82%</text>
<text x="437.70" y="591.60" font-size="8.6" text-anchor="middle" font-weight="normal" font-style="normal" fill="#111" stroke="#111" stroke-width="0.12" letter-spacing="0.15">68% - 95%</text>
<text x="397.80" y="607.10" font-size="8.6" text-anchor="middle" font-weight="normal" font-style="normal" fill="#111" stroke="#111" stroke-width="0.12" letter-spacing="0.15">82%</text>
<text x="437.70" y="607.10" font-size="8.6" text-anchor="middle" font-weight="normal" font-style="normal" fill="#111" stroke="#111" stroke-width="0.12" letter-spacing="0.15">70% - 93%</text>
<text x="472.50" y="598.30" font-size="8.6" text-anchor="start" font-weight="normal" font-style="normal" fill="#111" stroke="#111" stroke-width="0.12" >.225</text>
<line x1="162.20" y1="39.10" x2="172.00" y2="39.10" stroke="#1b2d5a" stroke-width="1.9"/>
<text x="175.50" y="41.90" font-size="8.3" text-anchor="start" font-weight="normal" font-style="normal" fill="#111" stroke="#111" stroke-width="0.12" >Male</text>
<line x1="203.20" y1="39.10" x2="213.30" y2="39.10" stroke="#ad112d" stroke-width="1.9"/>
<text x="216.60" y="41.90" font-size="8.3" text-anchor="start" font-weight="normal" font-style="normal" fill="#111" stroke="#111" stroke-width="0.12" letter-spacing="-0.25">Female</text>
<text transform="translate(28.2,265.6) rotate(-90) scale(0.745,1)" font-size="9.2" fill="#1a1a1a" stroke="#1a1a1a" stroke-width="0.25">Relative survival</text>
<text transform="translate(258.2,484.8) scale(0.705,1)" font-size="10.3" fill="#1a1a1a" stroke="#1a1a1a" stroke-width="0.25">Years from treatment</text>
</svg>
<div class="frame"></div>
</body></html>
